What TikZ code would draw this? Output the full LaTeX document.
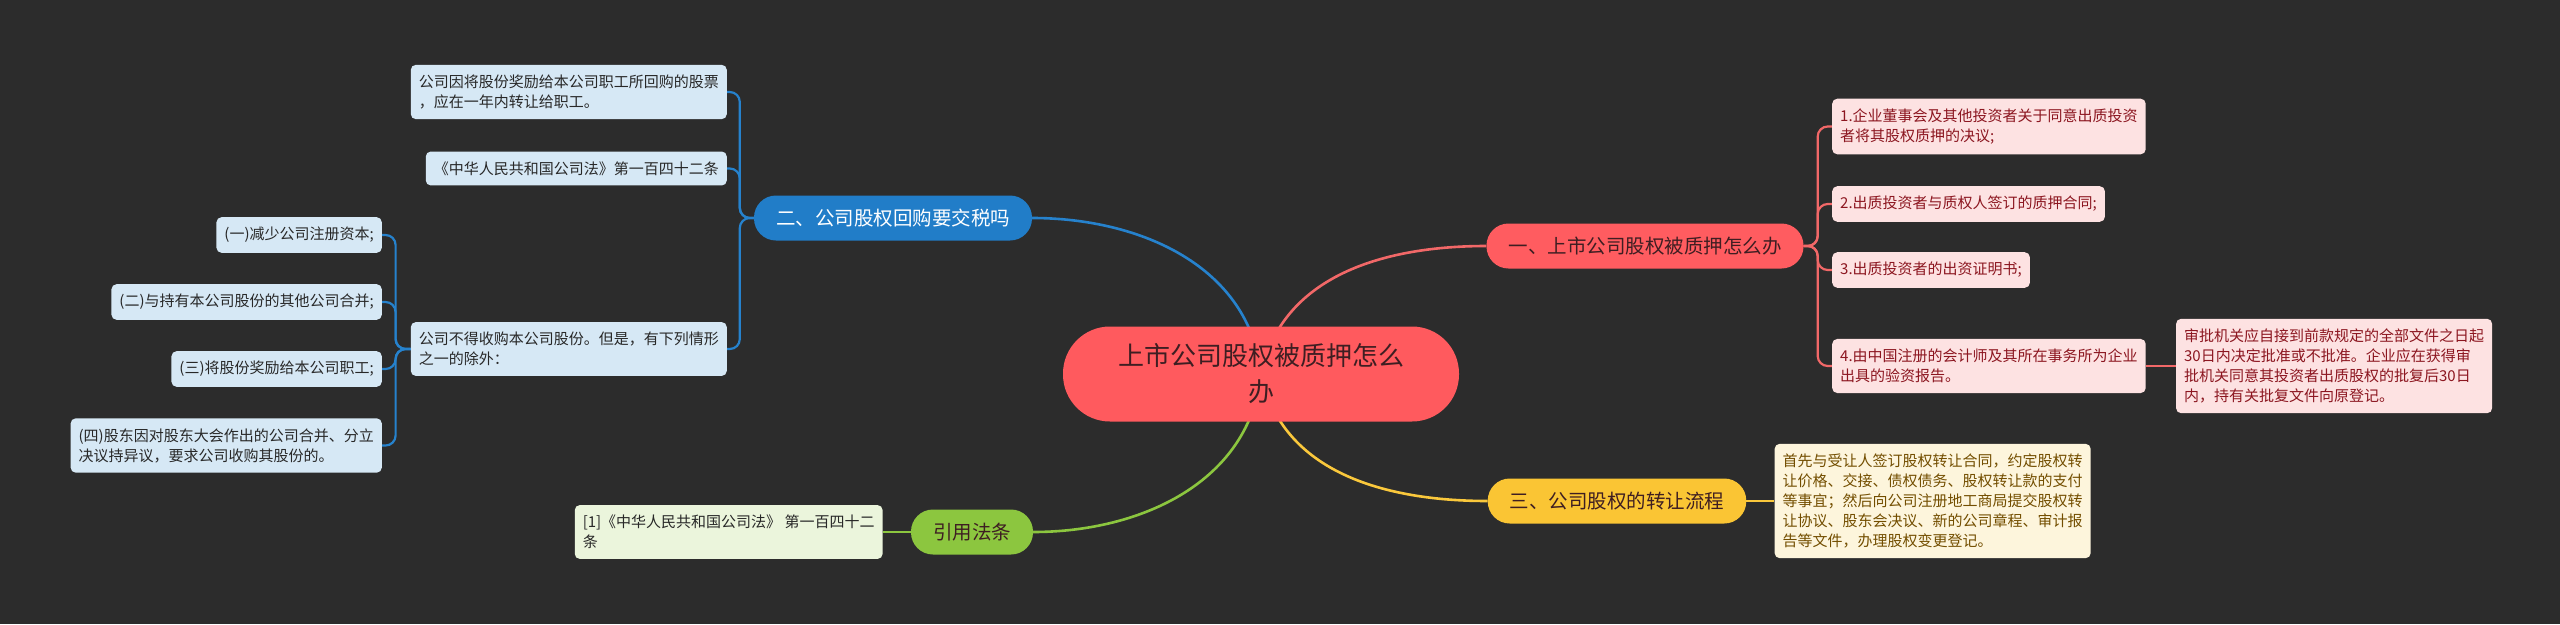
\documentclass[tikz,border=0pt]{standalone}
\usepackage{fontspec}
\newfontfamily\cjk{Noto Sans CJK SC}
\usepackage{tikz}
\usetikzlibrary{positioning, backgrounds}
\definecolor{bgDark}{RGB}{44,44,44}
\definecolor{rootFill}{RGB}{255,90,94}
\definecolor{rootText}{RGB}{62,30,34}
\definecolor{bluTop}{RGB}{33,125,200}
\definecolor{bluLine}{RGB}{38,130,205}
\definecolor{bluLeaf}{RGB}{214,232,245}
\definecolor{redTop}{RGB}{255,92,96}
\definecolor{redLine}{RGB}{242,104,104}
\definecolor{redLeaf}{RGB}{253,226,226}
\definecolor{redText}{RGB}{140,22,32}
\definecolor{yelTop}{RGB}{250,197,52}
\definecolor{yelLine}{RGB}{250,200,60}
\definecolor{yelLeaf}{RGB}{253,245,220}
\definecolor{yelText}{RGB}{115,78,0}
\definecolor{grnTop}{RGB}{140,198,63}
\definecolor{grnLine}{RGB}{140,198,63}
\definecolor{grnLeaf}{RGB}{235,245,220}
\definecolor{leafText}{RGB}{40,40,40}

\begin{document}
\begin{tikzpicture}[
    x=1pt, y=-1pt,
    rootblock/.style={rectangle, rounded corners=47pt, fill=rootFill, text=rootText, minimum width=396pt, minimum height=95pt, align=center, inner sep=0pt, font=\cjk\fontsize{26}{36}\selectfont},
    topicblock/.style={rectangle, rounded corners=22pt, minimum height=45pt, inner xsep=22pt, inner ysep=0pt, font=\cjk\fontsize{19.5}{24}\selectfont},
    leafblock/.style={rectangle, rounded corners=5pt, inner xsep=8pt, inner ysep=10pt, align=left, font=\cjk\fontsize{15}{20}\selectfont},
    bleaf/.style={leafblock, fill=bluLeaf, text=leafText},
    rleaf/.style={leafblock, fill=redLeaf, text=redText},
    yleaf/.style={leafblock, fill=yelLeaf, text=yelText},
    gleaf/.style={leafblock, fill=grnLeaf, text=leafText},
    mainlink/.style={line width=2.6pt},
    link/.style={line width=2.2pt, rounded corners=10pt}
]

% Background
\begin{scope}[on background layer]
\fill[bgDark] (0,0) rectangle (2560,624);
\end{scope}
\useasboundingbox (0,0) rectangle (2560,624);

% Root
\node[rootblock] (root) at (1261,374) {上市公司股权被质押怎么\\办};

% Topics
\node[topicblock, fill=bluTop, text=white] (tblue) at (893,218) {二、公司股权回购要交税吗};
\node[topicblock, fill=redTop, text=rootText] (tred) at (1645,246) {一、上市公司股权被质押怎么办};
\node[topicblock, fill=yelTop, text=rootText] (tyel) at (1617,501) {三、公司股权的转让流程};
\node[topicblock, fill=grnTop, text=rootText] (tgrn) at (972,532) {引用法条};

% Blue side
\node[bleaf, anchor=east] (bA) at (727,92) {公司因将股份奖励给本公司职工所回购的股票\\，应在一年内转让给职工。};
\node[bleaf, anchor=east] (bB) at (727,168.5) {《中华人民共和国公司法》第一百四十二条};
\node[bleaf, anchor=east] (bC) at (727,349) {公司不得收购本公司股份。但是，有下列情形\\之一的除外：};
\node[bleaf, anchor=east] (c1) at (382,235) {(一)减少公司注册资本;};
\node[bleaf, anchor=east] (c2) at (382,302) {(二)与持有本公司股份的其他公司合并;};
\node[bleaf, anchor=east] (c3) at (382,369) {(三)将股份奖励给本公司职工;};
\node[bleaf, anchor=east] (c4) at (382,445.5) {(四)股东因对股东大会作出的公司合并、分立\\决议持异议，要求公司收购其股份的。};

% Red side
\node[rleaf, anchor=west] (r1) at (1832,126.5) {1.企业董事会及其他投资者关于同意出质投资\\者将其股权质押的决议;};
\node[rleaf, anchor=west] (r2) at (1832,204) {2.出质投资者与质权人签订的质押合同;};
\node[rleaf, anchor=west] (r3) at (1832,270) {3.出质投资者的出资证明书;};
\node[rleaf, anchor=west] (r4) at (1832,366) {4.由中国注册的会计师及其所在事务所为企业\\出具的验资报告。};
\node[rleaf, right=30pt of r4] (r4a) {审批机关应自接到前款规定的全部文件之日起\\30日内决定批准或不批准。企业应在获得审\\批机关同意其投资者出质股权的批复后30日\\内，持有关批复文件向原登记。};

% Yellow and green
\node[yleaf, right=28pt of tyel] (y1) {首先与受让人签订股权转让合同，约定股权转\\让价格、交接、债权债务、股权转让款的支付\\等事宜；然后向公司注册地工商局提交股权转\\让协议、股东会决议、新的公司章程、审计报\\告等文件，办理股权变更登记。};
\node[gleaf, left=28pt of tgrn] (g1) {[1]《中华人民共和国公司法》 第一百四十二\\条};

% Connectors
\begin{scope}[on background layer]
\draw[mainlink, bluLine] (root.center) to[out=96, in=0] (tblue.east);
\draw[mainlink, redLine] (root.center) to[out=78, in=180] (tred.west);
\draw[mainlink, grnLine] (root.center) to[out=-96, in=0] (tgrn.east);
\draw[mainlink, yelLine] (root.center) to[out=-78, in=180] (tyel.west);

\foreach \leaf in {bA, bB, bC}
  \draw[link, bluLine] (tblue.west) -- ++(-14,0) |- (\leaf.east);
\foreach \leaf in {c1, c2, c3, c4}
  \draw[link, bluLine] (bC.west) -- ++(-15,0) |- (\leaf.east);
\foreach \leaf in {r1, r2, r3, r4}
  \draw[link, redLine] (tred.east) -- ++(14,0) |- (\leaf.west);
\draw[link, redLine] (r4.east) -- (r4a.west);
\draw[link, yelLine] (tyel.east) -- (y1.west);
\draw[link, grnLine] (tgrn.west) -- (g1.east);
\end{scope}

\end{tikzpicture}
\end{document}
